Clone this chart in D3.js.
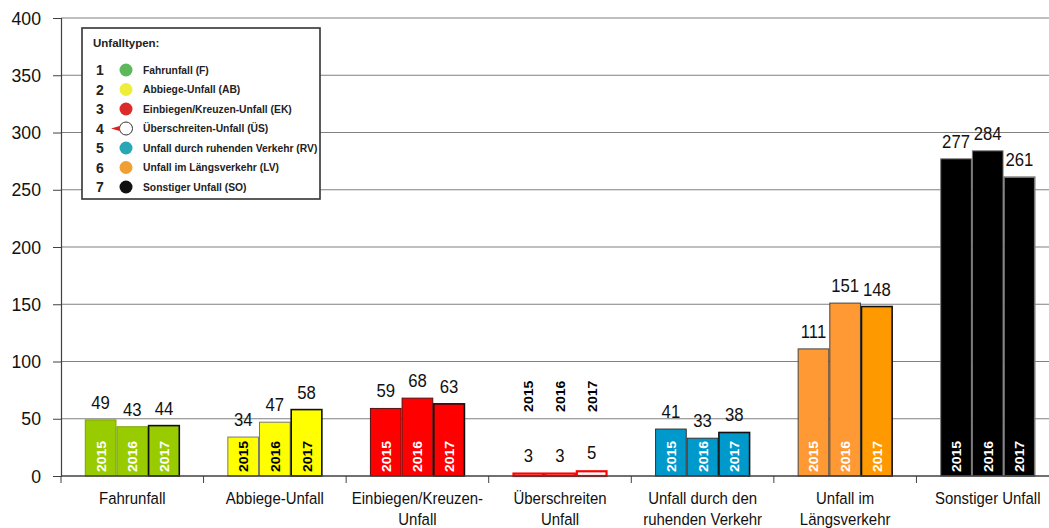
<!DOCTYPE html>
<html>
<head>
<meta charset="utf-8">
<script src="https://cdn.jsdelivr.net/npm/d3@7"></script>
<style>
  body { margin: 0; background: #fff; }
  svg { display: block; font-family: "Liberation Sans", Arial, sans-serif; }
</style>
</head>
<body>
<div id="chart"></div>
<script>
// data
var categories = ["Fahrunfall", "Abbiege-Unfall", "Einbiegen/Kreuzen-Unfall", "Überschreiten Unfall",
  "Unfall durch den ruhenden Verkehr", "Unfall im Längsverkehr", "Sonstiger Unfall"];
var categoryLines = [["Fahrunfall"], ["Abbiege-Unfall"], ["Einbiegen/Kreuzen-", "Unfall"], ["Überschreiten", "Unfall"],
  ["Unfall durch den", "ruhenden Verkehr"], ["Unfall im", "Längsverkehr"], ["Sonstiger Unfall"]];
var years = ["2015", "2016", "2017"];
var values2015 = [49, 34, 59, 3, 41, 111, 277];
var values2016 = [43, 47, 68, 3, 33, 151, 284];
var values2017 = [44, 58, 63, 5, 38, 148, 261];
var yTicks = [0, 50, 100, 150, 200, 250, 300, 350, 400];

var legendTitle = "Unfalltypen:";
var legendNumbers = ["1", "2", "3", "4", "5", "6", "7"];
var legendLabels = ["Fahrunfall (F)", "Abbiege-Unfall (AB)", "Einbiegen/Kreuzen-Unfall (EK)", "Überschreiten-Unfall (ÜS)",
  "Unfall durch ruhenden Verkehr (RV)", "Unfall im Längsverkehr (LV)", "Sonstiger Unfall (SO)"];
var legendColors = ["#5cb85a", "#eeee3a", "#dc2b2b", "#ffffff", "#2aa7b5", "#f0a033", "#111111"];

// colours per category: [2015, 2016, 2017]
var barFills = [
  ["#99cc00", "#99cc00", "#99cc00"],
  ["#ffff00", "#ffff00", "#ffff00"],
  ["#ff0000", "#ff0000", "#ff0000"],
  ["#ffffff", "#ffffff", "#ffffff"],
  ["#0099cc", "#0099cc", "#0099cc"],
  ["#ff9933", "#ff9933", "#ff9900"],
  ["#000000", "#000000", "#000000"]
];
var barStrokes = [
  ["#7aa300", "#7aa300", "#111"],
  ["#777", "#777", "#111"],
  ["#551111", "#551111", "#111"],
  ["#ff0000", "#ff0000", "#ff0000"],
  ["#333", "#333", "#111"],
  ["#444", "#444", "#111"],
  ["#777", "#777", "#777"]
];
var yearTextColors = ["#fff", "#000", "#fff", "#000", "#fff", "#fff", "#fff"];

var svgWidth = 1049, svgHeight = 528;
var plotLeft = 61, plotRight = 1059, plotTop = 18, plotBottom = 476;
var narrow = 0.88; // the original font is a condensed one

var svg = d3.select("#chart").append("svg")
  .attr("width", svgWidth)
  .attr("height", svgHeight);

var y = d3.scaleLinear().domain([0, 400]).range([plotBottom, plotTop]);
var x0 = d3.scaleBand().domain(categories).range([plotLeft, plotRight]).padding(0);
var x1 = d3.scaleBand().domain(years)
  .range([x0.bandwidth() / 2 - 47.5, x0.bandwidth() / 2 + 47.5]).padding(0);

// gridlines
svg.append("g")
  .selectAll("line")
  .data(yTicks.slice(1))
  .enter().append("line")
  .attr("x1", plotLeft).attr("x2", svgWidth)
  .attr("y1", d => y(d)).attr("y2", d => y(d))
  .attr("stroke", "#808080").attr("stroke-width", 1.2);

// y axis
var leftAxis = d3.axisLeft(y).tickValues(yTicks).tickSize(8).tickPadding(0).tickFormat("");
var yAxisG = svg.append("g")
  .attr("transform", `translate(${plotLeft},0)`)
  .call(leftAxis);
yAxisG.select(".domain").attr("stroke", "#404040").attr("stroke-width", 1.2);
yAxisG.selectAll(".tick line").attr("stroke", "#404040");

svg.append("g").selectAll("text")
  .data(yTicks)
  .enter().append("text")
  .attr("transform", d => `translate(41,${y(d) + 6.5}) scale(0.93,1)`)
  .attr("text-anchor", "end")
  .style("font-size", "19px")
  .attr("fill", "#111")
  .text(d => d);

// bars
var rows = categories.map(function(c, i) {
  return { cat: c, i: i, vals: [values2015[i], values2016[i], values2017[i]] };
});

var groups = svg.append("g").selectAll("g")
  .data(rows)
  .enter().append("g")
  .attr("transform", d => `translate(${x0(d.cat)},0)`);

var bars = groups.selectAll("g.bar")
  .data(d => d.vals.map((v, j) => ({ v: v, year: years[j], j: j, i: d.i })))
  .enter().append("g").attr("class", "bar");

bars.append("rect")
  .attr("x", d => x1(d.year) + (d.i === 3 ? 1 : 0.5))
  .attr("width", d => x1.bandwidth() - (d.i === 3 ? 2 : 1))
  .attr("y", d => y(d.v) + (d.i === 3 ? 1 : 0))
  .attr("height", d => plotBottom - y(d.v) - (d.i === 3 ? 1 : 0))
  .attr("fill", d => barFills[d.i][d.j])
  .attr("stroke", d => barStrokes[d.i][d.j])
  .attr("stroke-width", d => d.i === 3 ? 2.2 : (d.j === 2 ? 1.6 : 1));

// value labels
bars.append("text")
  .attr("transform", d => `translate(${x1(d.year) + x1.bandwidth() / 2},${y(d.v) - 11}) scale(${narrow},1)`)
  .attr("text-anchor", "middle")
  .style("font-size", "19px")
  .attr("fill", "#111")
  .text(d => d.v);

// year labels inside bars (or above them when the bar is too short)
bars.append("text")
  .attr("transform", function(d) {
    var cx = x1(d.year) + x1.bandwidth() / 2 + 5;
    var base = d.i === 3 ? y(56) : plotBottom - 4;
    return `translate(${cx},${base}) rotate(-90) scale(1,0.95)`;
  })
  .attr("text-anchor", "start")
  .style("font-size", "14px")
  .style("font-weight", "bold")
  .attr("fill", d => yearTextColors[d.i])
  .text(d => d.year);

// x axis baseline and category separators
svg.append("line")
  .attr("x1", plotLeft).attr("x2", svgWidth)
  .attr("y1", plotBottom).attr("y2", plotBottom)
  .attr("stroke", "#404040").attr("stroke-width", 1.4);

svg.append("g").selectAll("line")
  .data(categories)
  .enter().append("line")
  .attr("x1", d => x0(d)).attr("x2", d => x0(d))
  .attr("y1", plotBottom).attr("y2", plotBottom + 7)
  .attr("stroke", "#404040");

// category labels
var catLabels = svg.append("g").selectAll("text")
  .data(rows)
  .enter().append("text")
  .attr("transform", d => `translate(${x0(d.cat) + x0.bandwidth() / 2},0) scale(${narrow},1)`)
  .attr("text-anchor", "middle")
  .style("font-size", "17px")
  .attr("fill", "#111");
catLabels.selectAll("tspan")
  .data(d => categoryLines[d.i])
  .enter().append("tspan")
  .attr("x", 0)
  .attr("y", (d, k) => 504 + k * 21)
  .text(d => d);

// legend
var legend = svg.append("g").attr("transform", "translate(82,28)");
legend.append("rect")
  .attr("x", 0).attr("y", 0).attr("width", 238).attr("height", 171)
  .attr("fill", "#fff").attr("stroke", "#333").attr("stroke-width", 1.6);
legend.append("text")
  .attr("x", 11).attr("y", 19)
  .style("font-size", "11.5px").style("font-weight", "bold")
  .attr("fill", "#222")
  .text(legendTitle);

var legendRows = legend.selectAll("g.row")
  .data(legendLabels)
  .enter().append("g").attr("class", "row")
  .attr("transform", (d, k) => `translate(0,${42 + k * 19.5})`);

legendRows.append("text")
  .attr("x", 14).attr("y", 5)
  .style("font-size", "14px").style("font-weight", "bold")
  .attr("fill", "#222")
  .text((d, k) => legendNumbers[k]);

legendRows.append("circle")
  .attr("cx", 44).attr("cy", 0).attr("r", 6.5)
  .attr("fill", (d, k) => legendColors[k])
  .attr("stroke", (d, k) => k === 3 ? "#333" : "none")
  .attr("stroke-width", 1);

legendRows.filter((d, k) => k === 3)
  .append("path")
  .attr("d", "M29,0 L37.5,-2.5 L37.5,2.5 Z")
  .attr("fill", "#dd2222");

legendRows.append("text")
  .attr("x", 61).attr("y", 3.5)
  .style("font-size", "10.3px").style("font-weight", "bold")
  .attr("fill", "#222")
  .text(d => d);
</script>
</body>
</html>
